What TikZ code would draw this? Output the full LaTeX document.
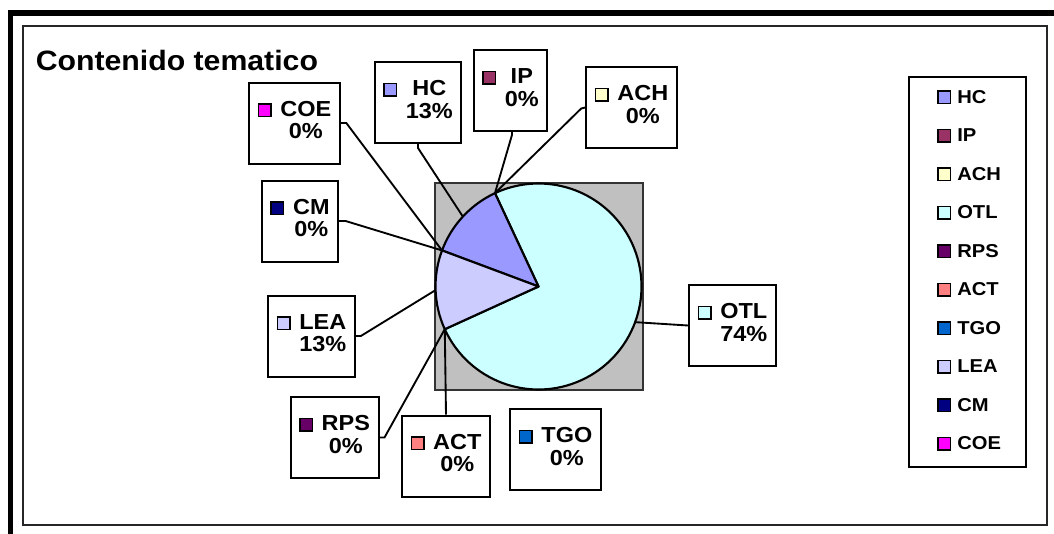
\documentclass[tikz,border=0pt]{standalone}
\usepackage{fontspec}
\setmainfont{Liberation Sans}[FakeStretch=1.08]

% Excel default series colours
\definecolor{hc}{HTML}{9999FF}
\definecolor{ip}{HTML}{993366}
\definecolor{ach}{HTML}{FFFFCC}
\definecolor{otl}{HTML}{CCFFFF}
\definecolor{rps}{HTML}{660066}
\definecolor{act}{HTML}{FF8080}
\definecolor{tgo}{HTML}{0066CC}
\definecolor{lea}{HTML}{CCCCFF}
\definecolor{cm}{HTML}{000080}
\definecolor{coe}{HTML}{FF00FF}
\definecolor{plotgray}{HTML}{C0C0C0}

% small colour key square
\newcommand\swatch[1]{\raisebox{0.3pt}{\setlength\fboxsep{0pt}\setlength\fboxrule{1.1pt}\fcolorbox{black}{#1}{\rule{0pt}{8.3pt}\rule{8.3pt}{0pt}}}}
% data label: key, category name and percentage
\newcommand\lbltext[3]{\begin{tabular}{@{}l@{\hspace{6.5pt}}c@{}}\swatch{#1}&#2\\&#3\end{tabular}}

\tikzset{
  lbl/.style={draw=black, line width=1.5pt, fill=white, inner xsep=6.4pt, inner ysep=0pt,
              minimum height=60.75pt, font=\fontsize{16.3}{16.7}\selectfont\bfseries},
  leader/.style={draw=black, line width=1.4pt},
  slice/.style={draw=black, line width=1.6pt, line join=round},
  legitem/.style={anchor=base west, inner sep=0pt, font=\fontsize{14}{16}\selectfont\bfseries},
}

\begin{document}
\begin{tikzpicture}[x=0.75pt,y=-0.75pt]
\useasboundingbox (0,0) rectangle (1054,533);
\clip (0,0) rectangle (1054,533);
\fill[white] (0,0) rectangle (1054,533);

% frames
\draw[line width=4.2pt] (10.5,600) -- (10.5,13) -- (1100,13);
\draw[line width=1.6pt, draw=black!85] (23,26) rectangle (1047,525);

% title
\node[anchor=base west, inner sep=0pt, font=\fontsize{21}{25}\selectfont\bfseries] (title) at (35.5,70) {Contenido tematico};

% plot area and pie
\draw[fill=plotgray, draw=black!80, line width=1.4pt] (435,183) rectangle (643,390);
\coordinate (c) at (538.5,286.5);
\filldraw[slice, fill=otl] (c) -- ([shift={(c)}]-204.5:103) arc[start angle=-204.5, end angle=-475, radius=103] -- cycle;
\filldraw[slice, fill=hc] (c) -- ([shift={(c)}]-115:103) arc[start angle=-115, end angle=-159.5, radius=103] -- cycle;
\filldraw[slice, fill=lea] (c) -- ([shift={(c)}]-159.5:103) arc[start angle=-159.5, end angle=-204.5, radius=103] -- cycle;

% points on the pie where the leader lines end
\coordinate (pTop) at ([shift={(c)}]-115:103);
\coordinate (pHL) at ([shift={(c)}]-159.5:103);
\coordinate (pLO) at ([shift={(c)}]-204.5:103);
\coordinate (pHC) at ([shift={(c)}]-137.25:103);
\coordinate (pLEA) at ([shift={(c)}]-182:103);
\coordinate (pOTL) at ([shift={(c)}]20.25:103);

% data labels
\node[lbl] (coe) at (294.5,123) {\lbltext{coe}{COE}{0\%}};
\node[lbl] (hclab) at (418,102.5) {\lbltext{hc}{HC}{13\%}};
\node[lbl] (iplab) at (510.5,90.5) {\lbltext{ip}{IP}{0\%}};
\node[lbl] (achlab) at (631.5,107.5) {\lbltext{ach}{ACH}{0\%}};
\node[lbl] (cmlab) at (300,221) {\lbltext{cm}{CM}{0\%}};
\node[lbl] (lealab) at (311.5,336) {\lbltext{lea}{LEA}{13\%}};
\node[lbl] (rpslab) at (334.5,437.5) {\lbltext{rps}{RPS}{0\%}};
\node[lbl] (actlab) at (446,456) {\lbltext{act}{ACT}{0\%}};
\node[lbl] (tgolab) at (555.5,449.5) {\lbltext{tgo}{TGO}{0\%}};
\node[lbl] (otllab) at (732.5,325.5) {\lbltext{otl}{OTL}{74\%}};

% leader lines
\draw[leader] (coe.east) -- ++(5.5,0) -- (pHL);
\draw[leader] (cmlab.east) -- ++(6.5,0) -- (pHL);
\draw[leader] (hclab.south) -- ++(0,4) -- (pHC);
\draw[leader] ([xshift=1.1pt]iplab.south) -- ++(0,3) -- (pTop);
\draw[leader] (achlab.west) -- ++(-4,1) -- (pTop);
\draw[leader] (lealab.east) -- ++(5,0) -- (pLEA);
\draw[leader] (rpslab.east) -- ++(5,0) -- (pLO);
\draw[leader] (actlab.north) -- (pLO);
\draw[leader] (otllab.west) -- (pOTL);

% legend
\node[draw=black, line width=1.5pt, fill=white, minimum width=87.75pt, minimum height=292.5pt, inner sep=0pt] (legend) at (967.5,272) {};
\foreach \n/\col [count=\i] in {HC/hc, IP/ip, ACH/ach, OTL/otl, RPS/rps, ACT/act, TGO/tgo, LEA/lea, CM/cm, COE/coe}
  \node[legitem] (leg-\col) at (937, {103.3+38.5*(\i-1)}) {\swatch{\col}\hspace{4.5pt}\n};
\end{tikzpicture}
\end{document}
